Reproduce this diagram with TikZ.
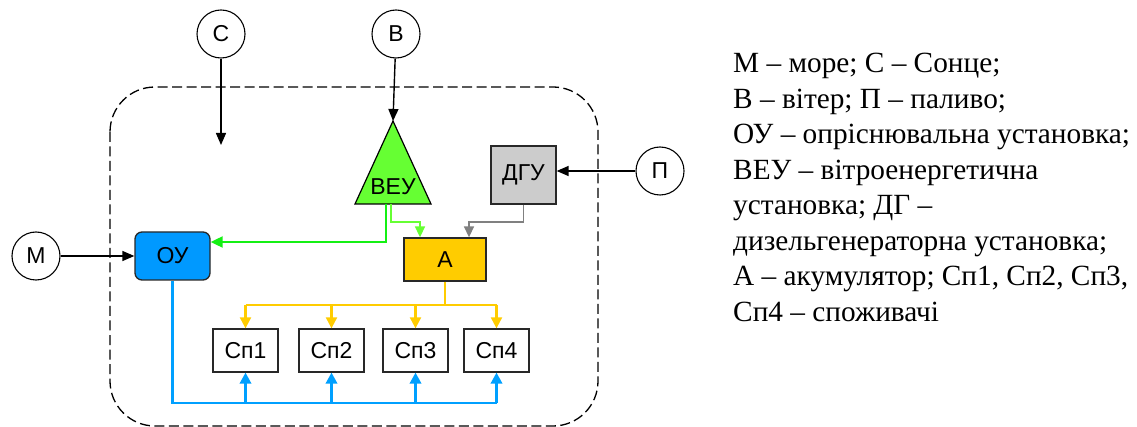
\documentclass[tikz,border=0pt]{standalone}
\usepackage{fontspec}
\setmainfont{Liberation Serif}
\setsansfont{Liberation Sans}
\usetikzlibrary{arrows.meta,calc}
\definecolor{oublue}{RGB}{0,153,255}
\definecolor{agold}{RGB}{255,204,0}
\definecolor{veugreen}{RGB}{102,255,51}
\definecolor{dgugrey}{RGB}{204,204,204}
\definecolor{lineblue}{RGB}{0,160,255}
\definecolor{linegreen}{RGB}{20,240,20}
\definecolor{linegreen2}{RGB}{102,255,51}
\definecolor{linegrey}{RGB}{128,128,128}
\definecolor{bordergrey}{RGB}{40,40,40}
\begin{document}
\begin{tikzpicture}[x=1pt,y=-1pt,
  every node/.style={font=\sffamily\fontsize{23}{27}\selectfont},
  circ/.style={circle,draw,line width=1.1pt,minimum size=48pt,inner sep=0pt,fill=white},
  blockbox/.style={draw=bordergrey,line width=1.3pt,inner sep=0pt},
  spbox/.style={blockbox,fill=white,minimum width=65pt,minimum height=43pt},
  blk/.style={line width=1.4pt,-{Triangle[length=12pt,width=10pt]}},
  gr1/.style={draw=linegreen,line width=1.9pt,-{Triangle[length=12pt,width=11pt]}},
  gr2/.style={draw=linegreen2,line width=1.6pt,-{Triangle[length=11pt,width=10pt]}},
  greyl/.style={draw=linegrey,line width=1.5pt,-{Triangle[length=11pt,width=10pt]}},
  yl/.style={draw=agold,line width=2.1pt},
  ylarr/.style={yl,-{Triangle[length=11pt,width=11pt]}},
  bl/.style={draw=lineblue,line width=2.1pt},
  blarr/.style={bl,-{Triangle[length=11pt,width=11.5pt]}},
  legend/.style={anchor=base west,inner sep=0pt,font=\rmfamily\fontsize{29.3}{33}\selectfont}
]
\useasboundingbox (0,0) rectangle (1137,427);
% dashed system border
\draw[line width=1.3pt,dash pattern=on 10pt off 4.5pt,rounded corners=45pt] (110,87) rectangle (598,426);

% external circles
\node[circ] (C) at (221,34) {С};
\node[circ] (B) at (396,34) {В};
\node[circ] (M) at (36,256) {М};
\node[circ] (P) at (660,171) {П};

% wind turbine triangle
\draw[fill=veugreen,line width=1.2pt] (393,121) -- (431,204) -- (355,204) -- cycle;
\node (veu) at (393,187) {ВЕУ};
\coordinate (veutop) at (393,121);
\coordinate (veuL) at (386,204);
\coordinate (veuR) at (391,204);

% blocks
\node[blockbox,fill=oublue,rounded corners=7pt,minimum width=75pt,minimum height=48pt] (OU) at (172.5,256) {ОУ};
\node[blockbox,fill=agold,minimum width=82pt,minimum height=43pt] (A) at (445,259.5) {А};
\node[blockbox,fill=dgugrey,minimum width=65pt,minimum height=58pt] (DGU) at (523.5,175) {ДГУ};
\node[spbox] (S1) at (245.5,350.5) {Сп1};
\node[spbox] (S2) at (331.5,350.5) {Сп2};
\node[spbox] (S3) at (415.5,350.5) {Сп3};
\node[spbox] (S4) at (496.5,350.5) {Сп4};

% black inputs
\coordinate (cend) at (221,145);
\draw[blk] (C) -- (cend);
\draw[blk] (B) -- (veutop);
\draw[blk] (M) -- (OU);
\draw[blk] (P) -- (P -| DGU.east);

% green lines
\coordinate (gturn) at (386,242);
\draw[gr1] (veuL) -- (gturn) -- (gturn -| OU.east);
\coordinate (g2a) at (391,222);
\coordinate (g2b) at (420,222);
\draw[gr2] (veuR) -- (g2a) -- (g2b) -- (g2b |- A.north);
% grey line
\coordinate (gy) at (469,222);
\draw[greyl] (DGU.south) |- (gy) -- (gy |- A.north);

% yellow distribution
\coordinate (ybus) at (0,305);
\draw[yl] (A.south) -- (A.south |- ybus);
\draw[yl] (ybus -| S1.north) -- (ybus -| S4.north);
\foreach \s in {S1,S2,S3,S4} {\draw[ylarr] (ybus -| \s.north) -- (\s.north);}

% blue distribution
\coordinate (bbus) at (0,403);
\draw[bl] (OU.south) -- (OU.south |- bbus) -- (bbus -| S4.south);
\foreach \s in {S1,S2,S3,S4} {\draw[blarr] (bbus -| \s.south) -- (\s.south);}

% legend
\node[legend] (l1) at (733,72.7) {М – море; С – Сонце;};
\node[legend] (l2) at (733,108.2) {В – вітер; П – паливо;};
\node[legend] (l3) at (733,143.7) {ОУ – опріснювальна установка;};
\node[legend] (l4) at (733,179.2) {ВЕУ – вітроенергетична};
\node[legend] (l5) at (733,214.7) {установка; ДГ –};
\node[legend] (l6) at (733,250.2) {дизельгенераторна установка;};
\node[legend] (l7) at (733,285.7) {А – акумулятор; Сп1, Сп2, Сп3,};
\node[legend] (l8) at (733,321.2) {Сп4 – споживачі};
\end{tikzpicture}
\end{document}
